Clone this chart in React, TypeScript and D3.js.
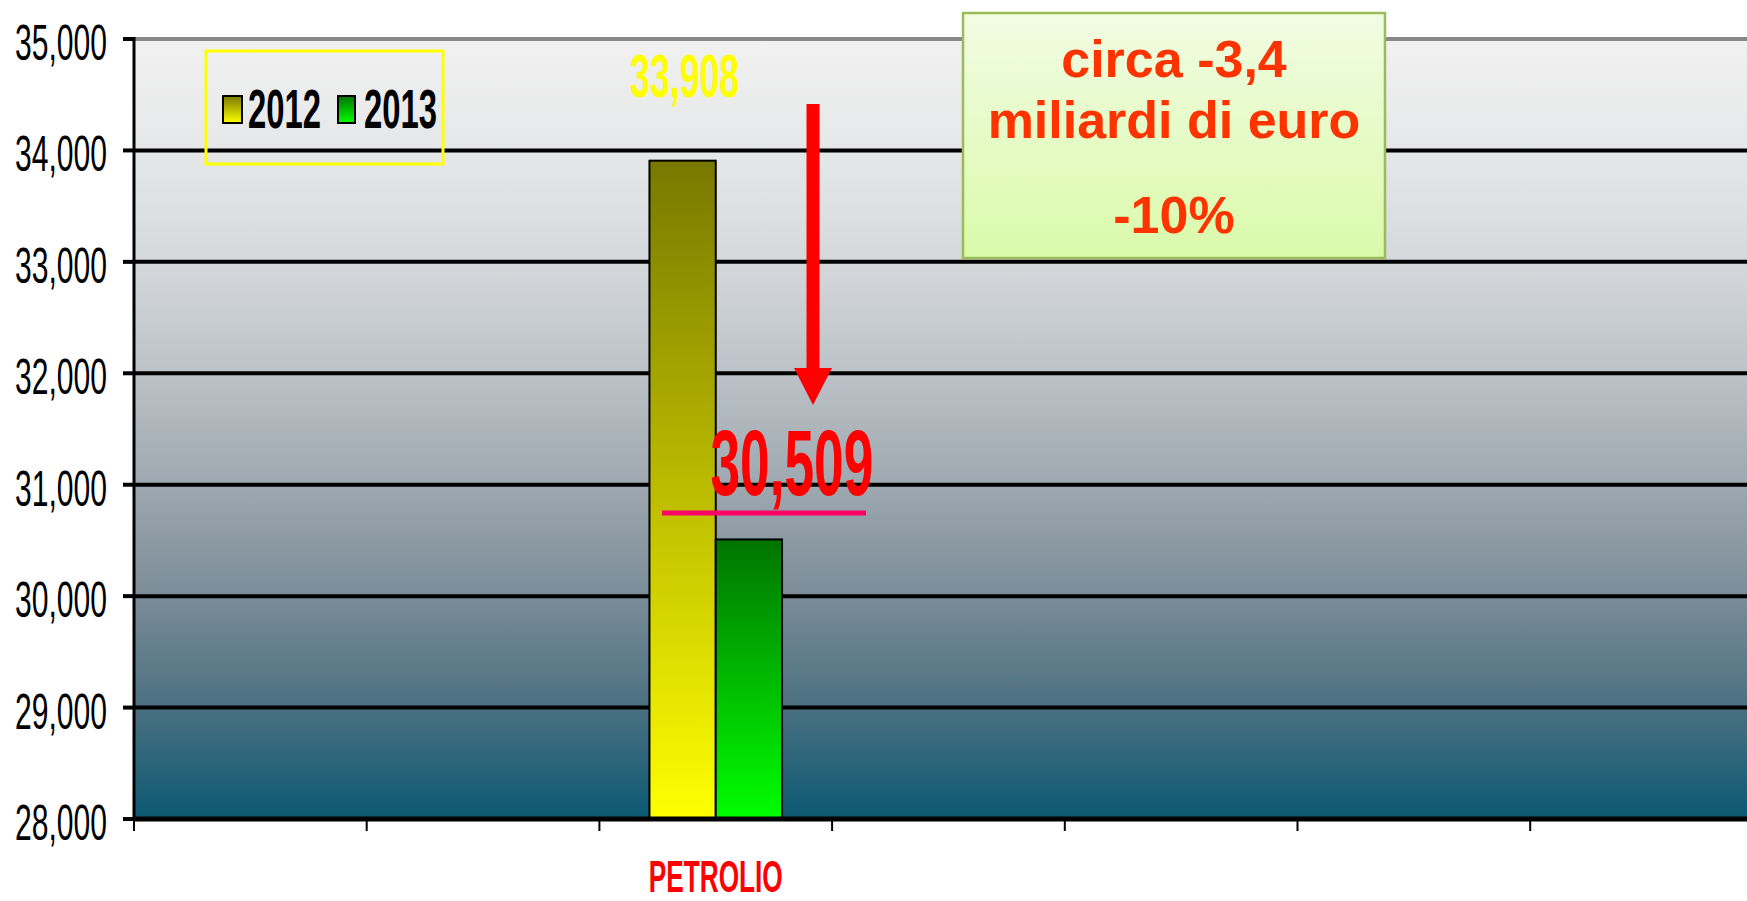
import React from "react";
import * as d3 from "d3";

const categories: string[] = ["", "", "PETROLIO", "", "", "", ""];
const seriesNames: string[] = ["2012", "2013"];
const values2012: number[] = [NaN, NaN, 33908, NaN, NaN, NaN, NaN];
const values2013: number[] = [NaN, NaN, 30509, NaN, NaN, NaN, NaN];
const yTicks: number[] = [28000, 29000, 30000, 31000, 32000, 33000, 34000, 35000];
const noteLines: string[] = ["circa -3,4", "miliardi di euro", "-10%"];

const W = 1747;
const H = 901;
const M = { left: 134, top: 39, bottom: 819 };
const BAND = 232.7;

const fmt = d3.format(",");

const Narrow = (p: any) => {
  const { children, len, ...rest } = p;
  return (
    <text
      {...rest}
      textLength={len}
      lengthAdjust="spacingAndGlyphs"
      fontFamily="'Liberation Sans Narrow', 'Liberation Sans', Arial, sans-serif"
    >
      {children}
    </text>
  );
};

export default function App() {
  const x = d3
    .scaleBand<number>()
    .domain(categories.map((_, i) => i))
    .range([M.left, M.left + BAND * categories.length])
    .paddingInner(0)
    .paddingOuter(0);
  const xs = d3
    .scaleBand<string>()
    .domain(seriesNames)
    .range([0, x.bandwidth()])
    .paddingInner(0)
    .paddingOuter(0.755);
  const y = d3.scaleLinear().domain([28000, 35000]).range([M.bottom, M.top]);

  const series = [
    { name: "2012", vals: values2012, grad: "g2012" },
    { name: "2013", vals: values2013, grad: "g2013" },
  ];

  const bgStops = [
    [0, "#f1f1f1"],
    [0.143, "#e6e7e8"],
    [0.286, "#d5d8db"],
    [0.428, "#bcc2c7"],
    [0.571, "#9ea8b0"],
    [0.714, "#7b8c98"],
    [0.857, "#4a7080"],
    [1, "#0b5873"],
  ];

  const pi = 2;
  const b12x = x(pi)! + xs("2012")!;
  const b13x = x(pi)! + xs("2013")!;
  const bw = xs.bandwidth();
  const arrowX = 813;

  return (
    <svg
      width={W}
      height={H}
      style={{ position: "absolute", left: 0, top: 0, display: "block", background: "#fff" }}
    >
      <defs>
        <linearGradient id="bg" x1="0" y1="0" x2="0" y2="1">
          {bgStops.map(([o, c], i) => (
            <stop key={i} offset={o as number} stopColor={c as string} />
          ))}
        </linearGradient>
        <linearGradient id="g2012" x1="0" y1="0" x2="0" y2="1">
          <stop offset="0" stopColor="#787800" />
          <stop offset="1" stopColor="#ffff00" />
        </linearGradient>
        <linearGradient id="g2013" x1="0" y1="0" x2="0" y2="1">
          <stop offset="0" stopColor="#007400" />
          <stop offset="1" stopColor="#00ff00" />
        </linearGradient>
        <linearGradient id="note" x1="0" y1="0" x2="0" y2="1">
          <stop offset="0" stopColor="#f1fce3" />
          <stop offset="1" stopColor="#dafaaa" />
        </linearGradient>
      </defs>

      {/* plot background */}
      <rect x={M.left} y={M.top} width={W - M.left} height={M.bottom - M.top} fill="url(#bg)" />

      {/* gridlines */}
      {yTicks.map((t) => (
        <g key={t}>
          {t !== 28000 && (
            <line
              x1={M.left}
              x2={W}
              y1={y(t)}
              y2={y(t)}
              stroke={t === 35000 ? "#888888" : "#000"}
              strokeWidth={4}
            />
          )}
          <line x1={123} x2={M.left} y1={y(t)} y2={y(t)} stroke="#000" strokeWidth={4} />
          <Narrow
            x={107}
            y={y(t) + 21}
            textAnchor="end"
            fontSize={50}
            len={92}
            fill="#000"
          >
            {fmt(t)}
          </Narrow>
        </g>
      ))}

      {/* bars */}
      {series.map((s) =>
        s.vals.map((v, i) =>
          isNaN(v) ? null : (
            <rect
              key={s.name + i}
              x={x(i)! + xs(s.name)!}
              y={y(v)}
              width={bw}
              height={M.bottom - y(v)}
              fill={`url(#${s.grad})`}
              stroke="#000"
              strokeWidth={2}
            />
          )
        )
      )}

      {/* axes */}
      <line x1={M.left} x2={M.left} y1={M.top - 2} y2={M.bottom} stroke="#000" strokeWidth={3} />
      <line x1={M.left - 1} x2={W} y1={M.bottom} y2={M.bottom} stroke="#000" strokeWidth={5} />
      {categories.map((_, i) => (
        <line
          key={i}
          x1={x(i)!}
          x2={x(i)!}
          y1={M.bottom}
          y2={M.bottom + 12}
          stroke="#000"
          strokeWidth={2}
        />
      ))}
      {categories.map((c, i) =>
        c ? (
          <Narrow
            key={"c" + i}
            x={x(i)! + x.bandwidth() / 2}
            y={892}
            textAnchor="middle"
            fontSize={45}
            fontWeight="bold"
            len={134}
            fill="#ff0000"
          >
            {c}
          </Narrow>
        ) : null
      )}

      {/* value labels */}
      <Narrow
        x={b12x + bw / 2 + 2}
        y={y(values2012[pi]) - 64}
        textAnchor="middle"
        fontSize={62}
        fontWeight="bold"
        len={109}
        fill="#ffff00"
      >
        {fmt(values2012[pi])}
      </Narrow>

      {/* arrow */}
      <line x1={arrowX} x2={arrowX} y1={104} y2={372} stroke="#ff0000" strokeWidth={13} />
      <path d={`M${arrowX - 19},368 L${arrowX + 19},368 L${arrowX},405 Z`} fill="#ff0000" />

      <Narrow
        x={b13x + bw / 2 + 43}
        y={y(values2013[pi]) - 44}
        textAnchor="middle"
        fontSize={92}
        fontWeight="bold"
        len={163}
        fill="#ff0000"
      >
        {fmt(values2013[pi])}
      </Narrow>
      <line x1={662} x2={866} y1={513} y2={513} stroke="#ff0066" strokeWidth={5} />

      {/* legend */}
      <rect x={206} y={51} width={237} height={113} fill="none" stroke="#ffff00" strokeWidth={3} />
      <rect x={223} y={96} width={19} height={27} fill="url(#g2012)" stroke="#000" strokeWidth={2} />
      <Narrow x={248} y={128} fontSize={56} fontWeight="bold" len={73} fill="#000">
        {seriesNames[0]}
      </Narrow>
      <rect x={338} y={96} width={17} height={27} fill="url(#g2013)" stroke="#000" strokeWidth={2} />
      <Narrow x={364} y={128} fontSize={56} fontWeight="bold" len={73} fill="#000">
        {seriesNames[1]}
      </Narrow>

      {/* note box */}
      <rect x={963} y={13} width={422} height={245} fill="url(#note)" stroke="#9bbb59" strokeWidth={2.5} />
      {noteLines.map((l, i) => (
        <text
          key={l}
          x={1174}
          y={[77, 138, 233][i]}
          textAnchor="middle"
          fontSize={52}
          fontWeight="bold"
          fontFamily="'Liberation Sans', Arial, sans-serif"
          fill="#ff3300"
        >
          {l}
        </text>
      ))}
    </svg>
  );
}
